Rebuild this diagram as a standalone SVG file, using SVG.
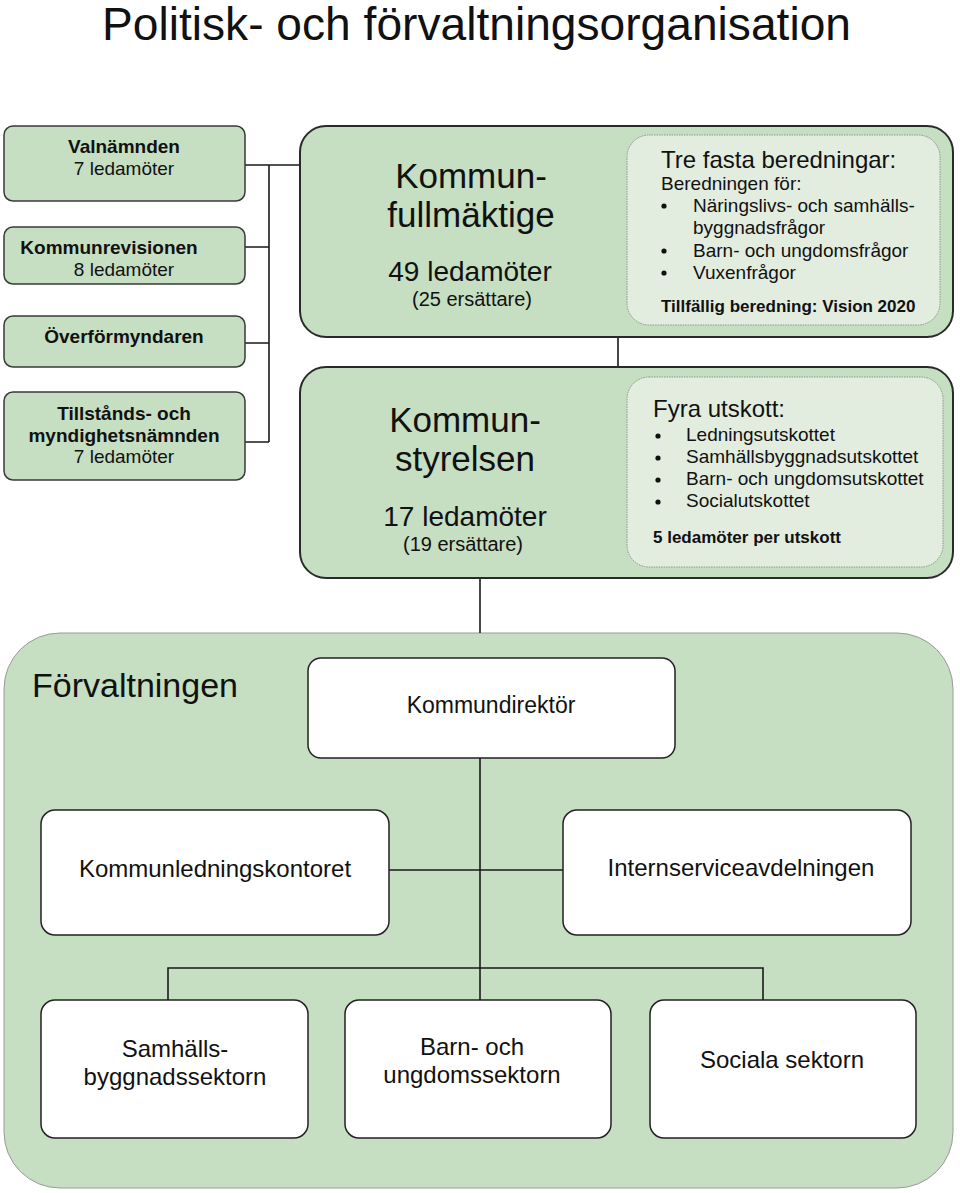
<svg xmlns="http://www.w3.org/2000/svg" width="960" height="1193" viewBox="0 0 960 1193">
<style>
text{font-family:"Liberation Sans",Arial,sans-serif;fill:#111}
.g{fill:#c6dec2;stroke:#3a3a3a;stroke-width:1.5}
.big{fill:#c6dec2;stroke:#2a2a2a;stroke-width:2}
.inner{fill:#e2ede0;stroke:#8a9a88;stroke-width:1;stroke-dasharray:1.5 1}
.w{fill:#ffffff;stroke:#222;stroke-width:1.5}
.f{fill:#c6dec2;stroke:#9a9a9a;stroke-width:1}
.c{fill:none;stroke:#1a1a1a;stroke-width:1.6}
.b{font-weight:bold}
.m{text-anchor:middle}
</style>
<rect width="960" height="1193" fill="#ffffff"/>
<text x="102" y="40" font-size="46" textLength="749" lengthAdjust="spacingAndGlyphs">Politisk- och förvaltningsorganisation</text>

<g id="forvaltningen">
<rect class="f" x="4" y="633" width="949" height="555" rx="56" ry="56"/>
<text x="32" y="697" font-size="34">Förvaltningen</text>
</g>

<g id="connectors">
<path class="c" d="M245 165H300M269 165V442M245 247H269M245 343H269M245 442H269"/>
<path class="c" d="M618 337V367"/>
<path class="c" d="M480 578V633"/>
<path class="c" d="M480 758V1000"/>
<path class="c" d="M389 870H563"/>
<path class="c" d="M168 1000V968H763V1000"/>
</g>

<g id="valnamnden">
<rect class="g" x="4" y="126" width="241" height="75" rx="9"/>
<text class="b m" x="124" y="153" font-size="19">Valnämnden</text>
<text class="m" x="124" y="175" font-size="19">7 ledamöter</text>
</g>
<g id="kommunrevisionen">
<rect class="g" x="4" y="227" width="241" height="57" rx="9"/>
<text class="b m" x="109" y="254" font-size="19">Kommunrevisionen</text>
<text class="m" x="124" y="276" font-size="19">8 ledamöter</text>
</g>
<g id="overformyndaren">
<rect class="g" x="4" y="316" width="241" height="51" rx="9"/>
<text class="b m" x="124" y="343" font-size="19">Överförmyndaren</text>
</g>
<g id="tillstands">
<rect class="g" x="4" y="392" width="241" height="88" rx="9"/>
<text class="b m" x="124" y="420" font-size="19">Tillstånds- och</text>
<text class="b m" x="124" y="442" font-size="19">myndighetsnämnden</text>
<text class="m" x="124" y="463" font-size="19">7 ledamöter</text>
</g>

<g id="kommunfullmaktige">
<rect class="big" x="300" y="126" width="653" height="211" rx="26"/>
<text class="m" x="471" y="188" font-size="35">Kommun-</text>
<text class="m" x="471" y="227" font-size="35">fullmäktige</text>
<text class="m" x="470" y="281" font-size="28">49 ledamöter</text>
<text class="m" x="472" y="306" font-size="20">(25 ersättare)</text>
<rect class="inner" x="627" y="135" width="313" height="190" rx="22"/>
<text x="661" y="168" font-size="24">Tre fasta beredningar:</text>
<text x="661" y="190" font-size="19">Beredningen för:</text>
<circle cx="664" cy="206" r="2.6" fill="#111"/>
<text x="693" y="212" font-size="19">Näringslivs- och samhälls-</text>
<text x="693" y="234" font-size="19">byggnadsfrågor</text>
<circle cx="664" cy="251" r="2.6" fill="#111"/>
<text x="693" y="257" font-size="19">Barn- och ungdomsfrågor</text>
<circle cx="664" cy="273" r="2.6" fill="#111"/>
<text x="693" y="279" font-size="19">Vuxenfrågor</text>
<text class="b" x="661" y="312" font-size="17">Tillfällig beredning: Vision 2020</text>
</g>

<g id="kommunstyrelsen">
<rect class="big" x="300" y="367" width="653" height="211" rx="26"/>
<text class="m" x="465" y="432" font-size="35">Kommun-</text>
<text class="m" x="465" y="471" font-size="35">styrelsen</text>
<text class="m" x="465" y="526" font-size="28">17 ledamöter</text>
<text class="m" x="463" y="551" font-size="20">(19 ersättare)</text>
<rect class="inner" x="627" y="377" width="316" height="190" rx="22"/>
<text x="653" y="417" font-size="24">Fyra utskott:</text>
<circle cx="658" cy="436" r="2.6" fill="#111"/>
<text x="686" y="441" font-size="19">Ledningsutskottet</text>
<circle cx="658" cy="458" r="2.6" fill="#111"/>
<text x="686" y="463" font-size="19">Samhällsbyggnadsutskottet</text>
<circle cx="658" cy="480" r="2.6" fill="#111"/>
<text x="686" y="485" font-size="19">Barn- och ungdomsutskottet</text>
<circle cx="658" cy="502" r="2.6" fill="#111"/>
<text x="686" y="507" font-size="19">Socialutskottet</text>
<text class="b" x="653" y="543" font-size="17">5 ledamöter per utskott</text>
</g>

<g id="kommundirektor">
<rect class="w" x="308" y="658" width="367" height="100" rx="13"/>
<text class="m" x="491" y="713" font-size="23">Kommundirektör</text>
</g>
<g id="kommunledningskontoret">
<rect class="w" x="41" y="810" width="348" height="125" rx="14"/>
<text class="m" x="215" y="877" font-size="24">Kommunledningskontoret</text>
</g>
<g id="internservice">
<rect class="w" x="563" y="810" width="348" height="125" rx="14"/>
<text class="m" x="741" y="876" font-size="24">Internserviceavdelningen</text>
</g>
<g id="samhallsbyggnad">
<rect class="w" x="41" y="1000" width="267" height="138" rx="14"/>
<text class="m" x="175" y="1057" font-size="24">Samhälls-</text>
<text class="m" x="175" y="1085" font-size="24">byggnadssektorn</text>
</g>
<g id="barn">
<rect class="w" x="345" y="1000" width="266" height="138" rx="14"/>
<text class="m" x="472" y="1055" font-size="24">Barn- och</text>
<text class="m" x="472" y="1083" font-size="24">ungdomssektorn</text>
</g>
<g id="sociala">
<rect class="w" x="650" y="1000" width="266" height="138" rx="14"/>
<text class="m" x="782" y="1068" font-size="24">Sociala sektorn</text>
</g>
</svg>
